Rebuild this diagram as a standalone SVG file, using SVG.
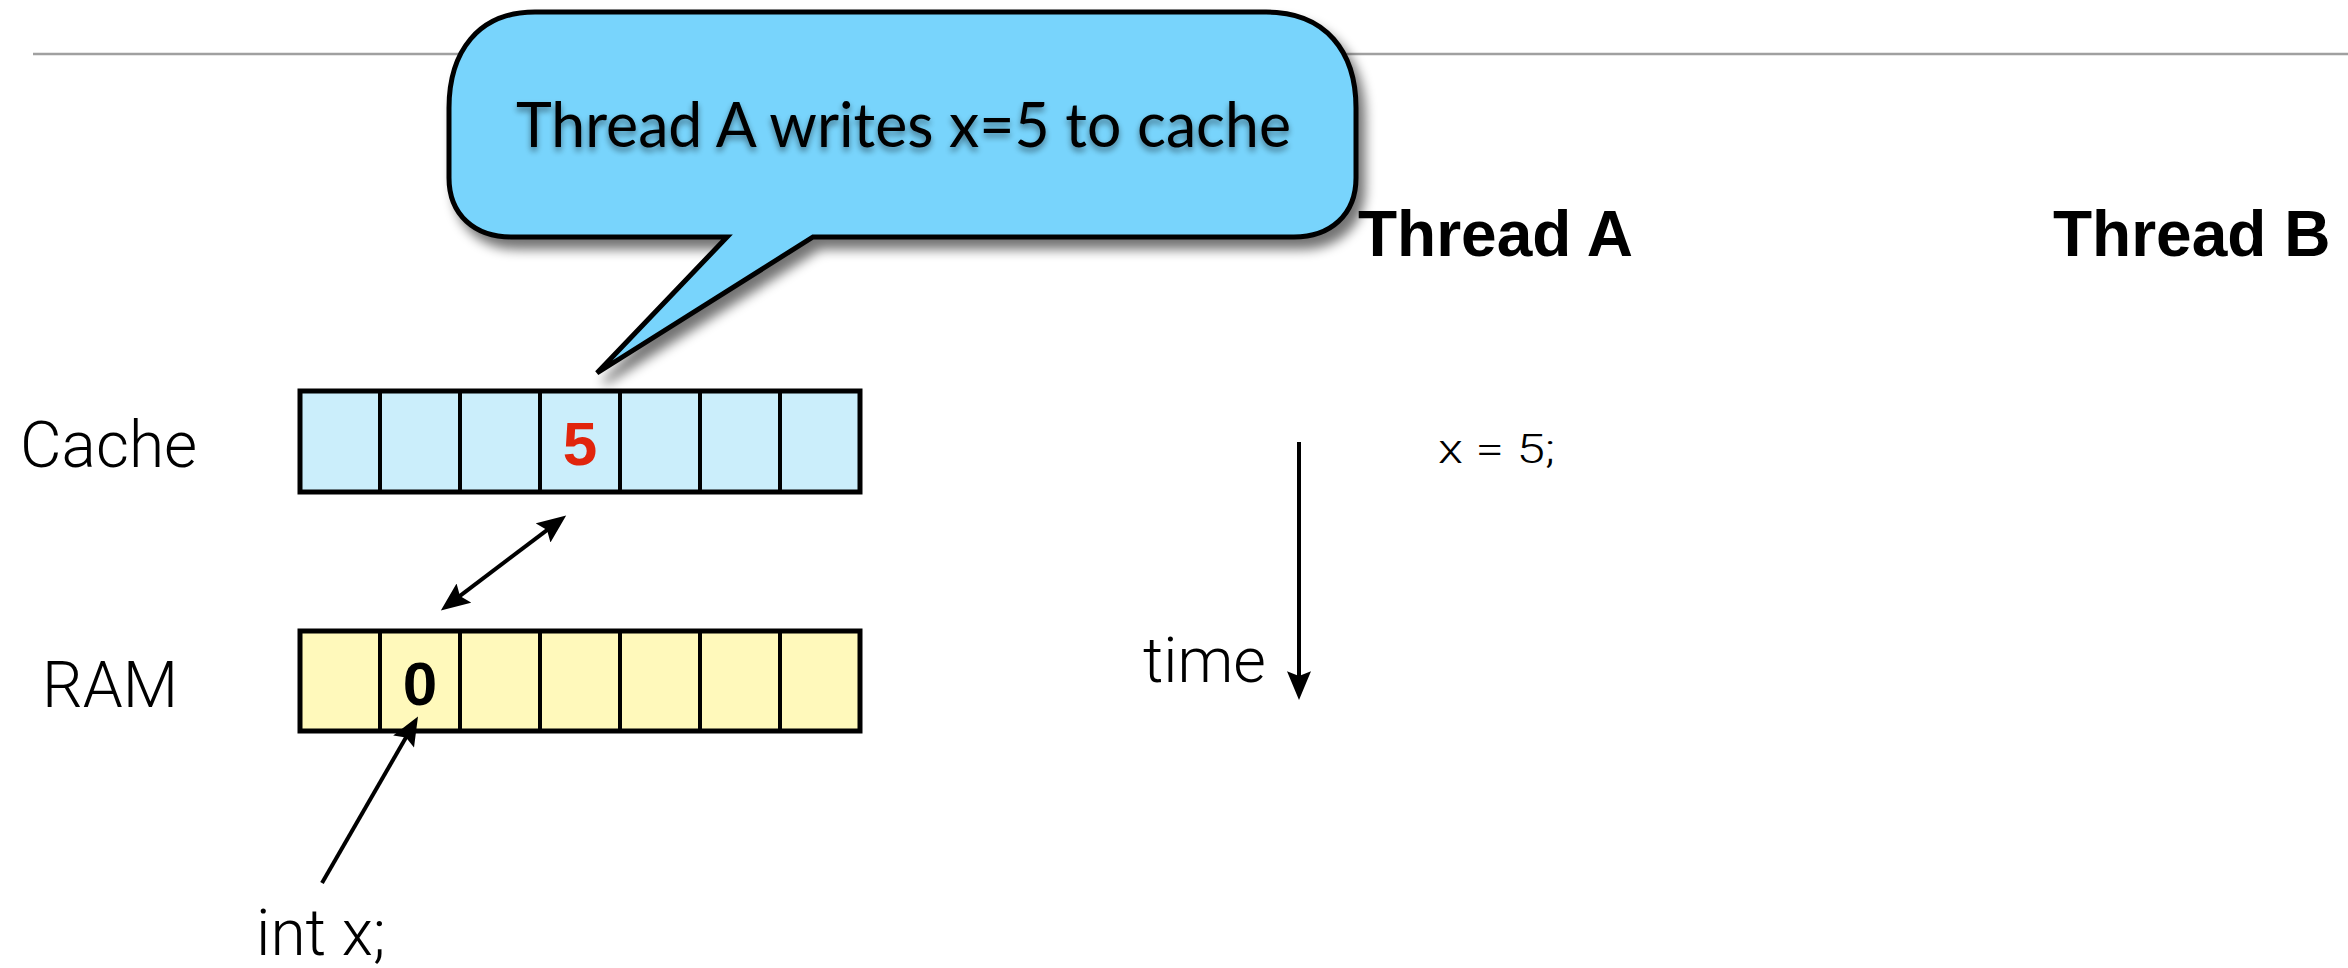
<svg xmlns="http://www.w3.org/2000/svg" width="2348" height="968" viewBox="0 0 2348 968">
  <style>
    .light { font-family: Roboto, "Liberation Sans", Arial, sans-serif; font-weight: 300; fill: #000; }
    .bold { font-family: "Liberation Sans", Arial, sans-serif; font-weight: bold; }
    .grid { stroke: #000; stroke-width: 4; }
    .frame { stroke: #000; stroke-width: 5; }
    .conn { stroke: #000; stroke-width: 4; fill: none; }
  </style>
  <defs>
    <marker id="head" markerUnits="userSpaceOnUse" markerWidth="30" markerHeight="24" viewBox="0 0 24 20" refX="14" refY="10" orient="auto-start-reverse">
      <path d="M0,0 L24,10 L0,20 L4,10 Z" fill="#000"/>
    </marker>
    <filter id="dropShadow" x="-10%" y="-10%" width="130%" height="140%">
      <feGaussianBlur in="SourceAlpha" stdDeviation="6"/>
      <feOffset dx="7" dy="10" result="blur"/>
      <feComponentTransfer><feFuncA type="linear" slope="0.55"/></feComponentTransfer>
      <feMerge><feMergeNode/><feMergeNode in="SourceGraphic"/></feMerge>
    </filter>
    <filter id="textShadow" x="-5%" y="-30%" width="110%" height="170%">
      <feGaussianBlur in="SourceAlpha" stdDeviation="3"/>
      <feOffset dx="0" dy="4"/>
      <feComponentTransfer><feFuncA type="linear" slope="0.45"/></feComponentTransfer>
      <feMerge><feMergeNode/><feMergeNode in="SourceGraphic"/></feMerge>
    </filter>
  </defs>

  <rect width="2348" height="968" fill="#fff"/>

  <!-- header rule -->
  <line x1="33" y1="54" x2="2348" y2="54" stroke="#a0a0a0" stroke-width="2.5"/>

  <!-- row labels -->
  <g id="label-cache"><text class="light" x="20" y="467" font-size="64">Cache</text></g>
  <g id="label-ram"><text class="light" x="42" y="707" font-size="64">RAM</text></g>

  <!-- cache line -->
  <g id="cache">
    <rect x="300" y="391" width="560" height="101" fill="#cbeefb" class="frame"/>
    <path class="grid" d="M380,391V492M460,391V492M540,391V492M620,391V492M700,391V492M780,391V492"/>
    <text class="bold" x="580" y="465" font-size="62" text-anchor="middle" fill="#e1250c">5</text>
  </g>

  <!-- main memory -->
  <g id="ram">
    <rect x="300" y="631" width="560" height="100" fill="#fff9bb" class="frame"/>
    <path class="grid" d="M380,631V731M460,631V731M540,631V731M620,631V731M700,631V731M780,631V731"/>
    <text class="bold" x="420" y="705" font-size="62" text-anchor="middle" fill="#000">0</text>
  </g>

  <g id="label-intx"><text class="light" x="256" y="955" font-size="64">int x;</text></g>

  <!-- thread columns -->
  <g id="thread-a">
    <text class="bold" x="1358" y="256" font-size="64">Thread A</text>
    <text class="light" x="1438" y="463" font-size="40" textLength="117" lengthAdjust="spacingAndGlyphs">x = 5;</text>
  </g>
  <g id="thread-b"><text class="bold" x="2053" y="256" font-size="64">Thread B</text></g>

  <g id="time-label"><text class="light" x="1143" y="682" font-size="63">time</text></g>

  <!-- connectors -->
  <g id="connectors">
    <line class="conn" x1="450.4" y1="603.2" x2="556.6" y2="522.8" marker-start="url(#head)" marker-end="url(#head)"/>
    <line class="conn" x1="322" y1="883" x2="412" y2="727" marker-end="url(#head)"/>
    <line class="conn" stroke-width="3.5" x1="1299" y1="442" x2="1299" y2="688" marker-end="url(#head)"/>
  </g>

  <!-- callout bubble -->
  <g id="callout" filter="url(#dropShadow)">
    <path d="M535,12 H1266 C1326,12 1356,52 1356,108 V178 C1356,215 1330,237 1294,237 H813 L597,373 L727,237 H511 C475,237 449,215 449,178 V108 C449,52 478,12 535,12 Z"
          fill="#78d4fc" stroke="#000" stroke-width="5" stroke-linejoin="miter"/>
  </g>
  <g id="callout-text" filter="url(#textShadow)">
    <text x="516" y="147" font-family="Lato, 'Noto Sans', sans-serif" font-size="61" fill="#000" textLength="775" lengthAdjust="spacingAndGlyphs">Thread A writes x=5 to cache</text>
  </g>
</svg>
